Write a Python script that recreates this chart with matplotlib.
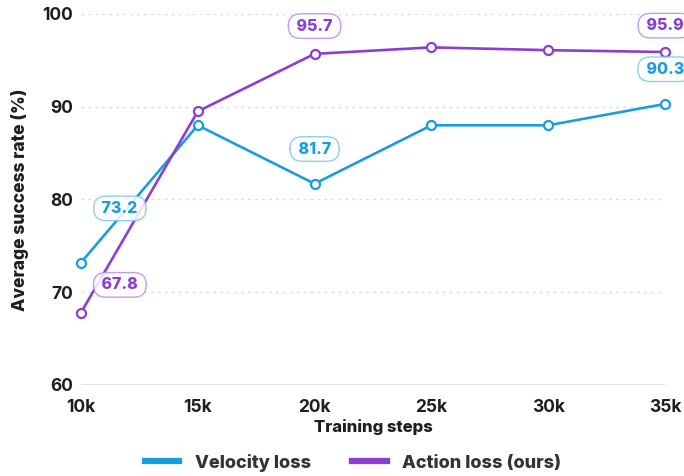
import numpy as np
import matplotlib.pyplot as plt

# данные с картинки
steps = [10, 15, 20, 25, 30, 35]
step_labels = ['10k', '15k', '20k', '25k', '30k', '35k']
velocity = [73.2, 88.0, 81.7, 88.0, 88.0, 90.3]
action = [67.8, 89.5, 95.7, 96.4, 96.1, 95.9]

# подписи: индекс точки, текст, смещение (pt)
velocity_notes = [(0, '73.2', (28, 39)), (2, '81.7', (0, 25)), (5, '90.3', (0, 25))]
action_notes = [(0, '67.8', (28, 20)), (2, '95.7', (0, 20)), (5, '95.9', (0, 19))]

BLUE = '#1a9de0'
PURPLE = '#8b3fd0'
BLUE_EDGE = '#7cc6ee'
PURPLE_EDGE = '#bb8be6'
DARK = '#1e1e1e'

plt.rcParams['font.family'] = ['Inter', 'DejaVu Sans']

fig = plt.figure(figsize=(6.84, 4.76), dpi=100)
ax = fig.add_axes([0.1184, 0.1912, 0.8538, 0.7794])

ax.plot(steps, velocity, color=BLUE, linewidth=1.9, marker='o', markersize=6.5,
        markerfacecolor='white', markeredgecolor=BLUE, markeredgewidth=1.6,
        clip_on=False, zorder=3, label='Velocity loss')
ax.plot(steps, action, color=PURPLE, linewidth=1.9, marker='o', markersize=6.5,
        markerfacecolor='white', markeredgecolor=PURPLE, markeredgewidth=1.6,
        clip_on=False, zorder=4, label='Action loss (ours)')

# подписи значений в "пилюлях"
for notes, ys, col, ec in [(velocity_notes, velocity, BLUE, BLUE_EDGE),
                           (action_notes, action, PURPLE, PURPLE_EDGE)]:
    for i, txt, off in notes:
        ax.annotate(' ' + txt + ' ', (steps[i], ys[i]), xytext=off, textcoords='offset points',
                    ha='center', va='center', fontsize=11.5, fontweight='heavy', color=col,
                    annotation_clip=False, zorder=5,
                    bbox=dict(boxstyle='round,pad=0.3,rounding_size=0.78', fc='white',
                              ec=ec, lw=1.0, alpha=0.85))

ax.set_xlim(10, 35)
ax.set_ylim(60, 100)
ax.set_xticks(steps)
ax.set_xticklabels(step_labels)
ax.set_yticks([60, 70, 80, 90, 100])

for y in [70, 80, 90, 100]:
    ax.axhline(y, color='#dcdce4', linewidth=1.0, linestyle=(0, (2, 3)), zorder=1)
ax.axhline(60, color='#d9d9d9', linewidth=1.8, zorder=1)

for s in ax.spines.values():
    s.set_visible(False)
ax.tick_params(length=0, labelsize=12.5, labelcolor=DARK, pad=6)
ax.tick_params(axis='x', pad=10)
for lbl in ax.get_xticklabels() + ax.get_yticklabels():
    lbl.set_fontweight('bold')

ax.set_xlabel('Training steps', fontsize=12, fontweight='heavy', color=DARK, labelpad=2)
ax.set_ylabel('Average success rate (%)', fontsize=12.5, fontweight='heavy', color=DARK, labelpad=9)

leg = fig.legend(loc='lower center', bbox_to_anchor=(0.516, -0.025), ncol=2, frameon=False,
                 handlelength=1.9, handletextpad=0.85, columnspacing=2.3,
                 prop={'size': 13, 'weight': 'heavy'})
for h in leg.get_lines():
    h.set_linewidth(4.5)
    h.set_marker('')
for t in leg.get_texts():
    t.set_color('#333333')

fig.savefig('out.png', dpi=100)
